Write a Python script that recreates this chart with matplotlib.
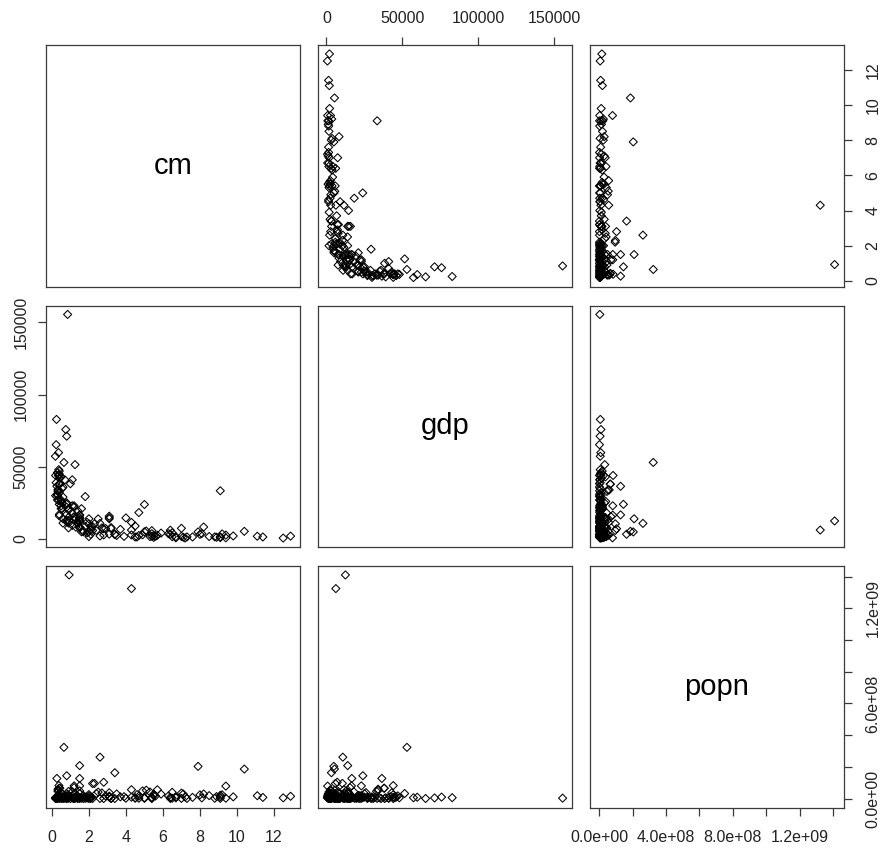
import numpy as np
import matplotlib
matplotlib.use('Agg')
import matplotlib.pyplot as plt
from matplotlib.ticker import FixedLocator, FixedFormatter

plt.rcParams['font.family'] = ['Liberation Sans', 'DejaVu Sans']

variables = ['cm', 'gdp', 'popn']

# child mortality (%)
cm = [2.5, 8.2, 9.8, 4.0, 8.5, 7.2, 8.0, 2.1, 12.5, 12.9, 7.3, 9.4, 5.4, 9.2, 6.4,
      2.3, 9.1, 4.5, 4.7, 6.5, 5.9, 8.9, 8.8, 4.9, 9.4, 6.7, 1.3, 4.6, 5.5, 11.1,
      8.1, 1.4, 2.7, 7.1, 4.5, 9.1, 10.4, 3.9, 3.4, 4.7, 11.4, 4.3, 9.1, 6.5, 7.0,
      5.7, 7.6, 1.4, 5.3, 6.3, 5.6,
      7.0, 1.3, 3.1, 0.7, 3.4, 3.2, 1.0, 3.1, 0.93, 1.1, 4.3, 2.6, 1.5, 3.1, 0.4,
      0.27, 1.8, 1.1, 0.8, 2.1, 6.4, 0.8, 0.8, 0.8, 1.9, 5.1, 3.5, 2.0, 1.1, 7.9,
      2.8, 0.85, 1.25, 0.25, 0.34, 0.9, 1.7, 4.3, 1.2, 5.0, 1.2, 5.0, 0.75, 2.4,
      2.2, 5.5,
      1.4, 0.35, 0.4, 0.4, 0.6, 0.8, 0.5, 0.3, 0.3, 0.4, 0.3, 0.23, 0.4, 0.38, 0.4,
      0.55, 0.2, 0.37, 0.33, 0.5, 0.5, 0.23, 0.6, 1.6, 0.4, 0.4, 1.2, 0.19, 0.5,
      0.36, 0.9, 0.8, 0.6, 0.6, 0.2, 0.33, 0.3, 0.36, 0.9, 0.43,
      1.1, 1.2, 1.2, 1.5, 3.7, 1.5, 0.5, 0.8, 1.5, 0.9, 0.55, 3.1, 2.0, 1.5, 2.9,
      3.2, 6.7, 1.9, 1.5, 1.5, 2.0, 1.6, 2.1, 1.5, 2.0, 1.8, 0.9, 0.65, 1.5,
      0.37, 0.55, 5.4, 2.2, 2.6, 2.8, 1.7, 5.4]

# GDP per capita
gdp = [13900, 8300, 2100, 14600, 1700, 700, 3200, 6300, 650, 2000, 1450, 800, 5800, 3500, 3300,
       10500, 33400, 1400, 18300, 1600, 4100, 1200, 1500, 2900, 2700, 800, 14000, 1400, 1100, 1900,
       3700, 19500, 7700, 1200, 9000, 950, 5300, 1800, 3100, 2400, 1400, 11500, 1500, 4300, 7400,
       2600, 1400, 10800, 1700, 3700, 1900,
       1800, 8200, 15800, 41000, 3300, 7900, 38300, 3400, 12500, 9400, 6200, 10800, 16500, 14700, 32000,
       36500, 8700, 23000, 71200, 3300, 6100, 13000, 25000, 12000, 11500, 5500, 2400, 1700, 41000, 4900,
       7100, 155500, 51500, 82800, 34000, 11000, 5000, 2800, 15500, 5000, 23000, 23900, 75800, 6000,
       5900, 2500,
       11000, 44000, 17000, 42000, 11000, 17000, 21000, 31000, 30000, 45000, 27000, 39000, 38000, 44000, 24000,
       25000, 44000, 48000, 34000, 23000, 27000, 65300, 36000, 5000, 16000, 47000, 13000, 57300, 26000,
       27000, 21000, 24000, 14000, 29000, 30000, 33000, 46000, 59800, 7700, 38000,
       18000, 22000, 15000, 8000, 6700, 14000, 43000, 22000, 13000, 15000, 21000, 14000, 10500, 7800, 7300,
       7200, 1650, 4300, 8200, 16700, 5100, 21000, 8700, 12000, 14000, 29400, 20000, 53000, 15000,
       44000, 35000, 3700, 8600, 2100, 2800, 5600, 1900]

# population
popn = [40.6e6, 28.8e6, 10.9e6, 2.25e6, 18.6e6, 10.5e6, 23.4e6, 0.54e6, 4.6e6, 14.5e6, 0.8e6, 78.7e6, 5.1e6, 23.7e6, 0.94e6,
        95.7e6, 1.2e6, 4.95e6, 1.98e6, 2.0e6, 28.2e6, 12.4e6, 1.8e6, 48.5e6, 2.2e6, 4.6e6, 6.3e6, 24.9e6, 18.1e6, 18.0e6,
        4.3e6, 1.26e6, 35.3e6, 28.8e6, 2.5e6, 20.7e6, 186e6, 11.9e6, 0.2e6, 15.4e6, 7.4e6, 56e6, 11.0e6, 39.6e6, 1.3e6,
        55.6e6, 7.6e6, 11.4e6, 41.5e6, 16.6e6, 16.2e6,
        34.6e6, 2.9e6, 9.8e6, 1.4e6, 163e6, 0.8e6, 0.42e6, 15.8e6, 1410e6, 3.9e6, 1324e6, 261e6, 80e6, 37e6, 8.2e6,
        127e6, 9.5e6, 17.8e6, 4.0e6, 6.1e6, 6.8e6, 6.0e6, 31e6, 0.42e6, 3.0e6, 53e6, 29e6, 25e6, 4.4e6, 203e6,
        103e6, 2.6e6, 32e6, 5.6e6, 51e6, 21e6, 18.4e6, 8.7e6, 69e6, 1.27e6, 80e6, 5.7e6, 9.3e6, 31.8e6,
        94.6e6, 27.6e6,
        2.9e6, 8.7e6, 9.5e6, 11.3e6, 3.5e6, 7.1e6, 4.2e6, 1.17e6, 10.6e6, 5.7e6, 1.3e6, 5.5e6, 65e6, 82e6, 11e6,
        9.8e6, 0.33e6, 4.7e6, 59e6, 1.97e6, 2.9e6, 0.58e6, 0.44e6, 4.06e6, 0.63e6, 17e6, 2.08e6, 5.2e6, 38e6,
        10.3e6, 19.8e6, 144e6, 7.0e6, 5.4e6, 2.1e6, 46e6, 9.9e6, 8.4e6, 45e6, 65.6e6,
        43.6e6, 0.39e6, 0.28e6, 0.37e6, 10.9e6, 208e6, 36e6, 18e6, 48.7e6, 4.9e6, 11.5e6, 10.6e6, 16.4e6, 6.3e6, 16.6e6,
        0.77e6, 10.8e6, 9.1e6, 2.9e6, 127e6, 6.1e6, 4.0e6, 6.7e6, 31.8e6, 0.56e6, 1.36e6, 3.4e6, 323e6, 31.6e6,
        24e6, 4.7e6, 8.1e6, 0.9e6, 0.6e6, 0.27e6, 0.2e6, 0.11e6]

cm_ticks = [0, 2, 4, 6, 8, 10, 12]
cm_labels = ['0', '2', '4', '6', '8', '10', '12']
gdp_ticks = [0, 50000, 100000, 150000]
gdp_labels = ['0', '50000', '100000', '150000']
popn_ticks = [0, 2e8, 4e8, 6e8, 8e8, 1.0e9, 1.2e9, 1.4e9]
popn_xlabels = ['0.0e+00', '', '4.0e+08', '', '8.0e+08', '', '1.2e+09', '']
popn_ylabels = ['0.0e+00', '', '', '6.0e+08', '', '', '1.2e+09', '']

data = {'cm': np.array(cm, float), 'gdp': np.array(gdp, float), 'popn': np.array(popn, float)}
xticks = {'cm': (cm_ticks, cm_labels), 'gdp': (gdp_ticks, gdp_labels), 'popn': (popn_ticks, popn_xlabels)}
yticks = {'cm': (cm_ticks, cm_labels), 'gdp': (gdp_ticks, gdp_labels), 'popn': (popn_ticks, popn_ylabels)}


def lims(v):
    lo, hi = v.min(), v.max()
    r = hi - lo
    return lo - 0.04 * r, hi + 0.04 * r


W, H = 883, 848
fig = plt.figure(figsize=(W / 100, H / 100), dpi=100)
lefts = [46, 318, 590]
tops = [45, 305.5, 566]
pw, ph = 254, 241.5
frame_col = '#3a3a3a'
tick_fs = 11.5
pads = {'top': 7.5, 'bottom': 10, 'left': 6.5, 'right': 9.5}

for i, yv in enumerate(variables):
    for j, xv in enumerate(variables):
        ax = fig.add_axes([lefts[j] / W, 1 - (tops[i] + ph) / H, pw / W, ph / H])
        ax.set_xlim(*lims(data[xv]))
        ax.set_ylim(*lims(data[yv]))
        for s in ax.spines.values():
            s.set_color(frame_col)
            s.set_linewidth(0.9)
        ax.set_xticks([])
        ax.set_yticks([])
        ax.tick_params(which='both', direction='out', length=6, width=0.9,
                       color=frame_col, labelsize=tick_fs,
                       labelcolor='#222222')
        if i == j:
            ax.text(0.5, 0.5, xv, ha='center', va='center', fontsize=21,
                    transform=ax.transAxes, color='black')
        else:
            ax.scatter(data[xv], data[yv], marker='D', s=17, facecolors='none',
                       edgecolors='black', linewidths=0.75)
        # axes as in R pairs()
        if i == 0 and j % 2 == 1:
            t, l = xticks[xv]
            ax.xaxis.tick_top()
            ax.xaxis.set_major_locator(FixedLocator(t))
            ax.xaxis.set_major_formatter(FixedFormatter(l))
            ax.tick_params(axis='x', pad=pads['top'])
        if i == 2 and j % 2 == 0:
            t, l = xticks[xv]
            ax.xaxis.tick_bottom()
            ax.xaxis.set_major_locator(FixedLocator(t))
            ax.xaxis.set_major_formatter(FixedFormatter(l))
            ax.tick_params(axis='x', pad=pads['bottom'])
        if j == 0 and i % 2 == 1:
            t, l = yticks[yv]
            ax.yaxis.tick_left()
            ax.yaxis.set_major_locator(FixedLocator(t))
            ax.yaxis.set_major_formatter(FixedFormatter(l))
            ax.tick_params(axis='y', pad=pads['left'])
            for lab in ax.get_yticklabels():
                lab.set_rotation(90)
                lab.set_va('center')
        if j == 2 and i % 2 == 0:
            t, l = yticks[yv]
            ax.yaxis.tick_right()
            ax.yaxis.set_major_locator(FixedLocator(t))
            ax.yaxis.set_major_formatter(FixedFormatter(l))
            ax.tick_params(axis='y', pad=pads['right'])
            for lab in ax.get_yticklabels():
                lab.set_rotation(90)
                lab.set_va('center')

fig.savefig('out.png', dpi=100, facecolor='white')
